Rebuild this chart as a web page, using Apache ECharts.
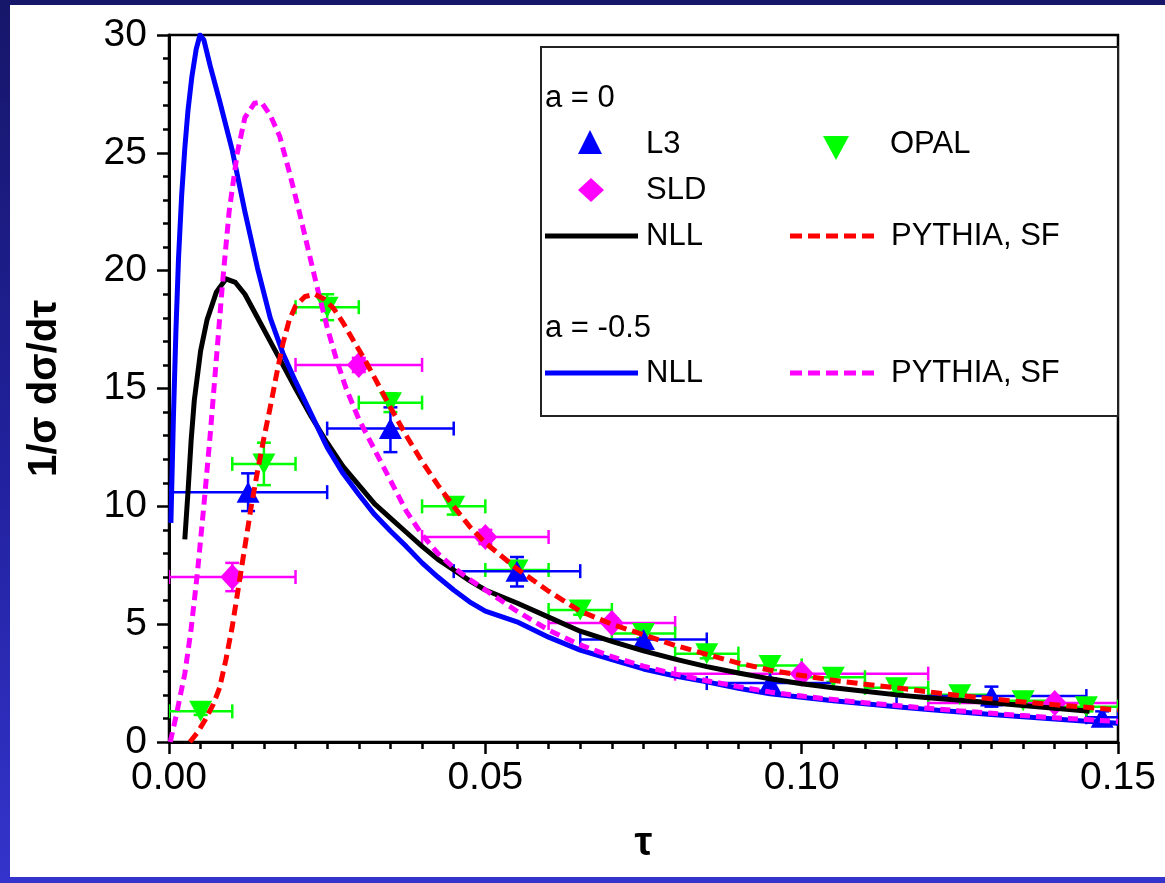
<!DOCTYPE html>
<html><head><meta charset="utf-8">
<script src="https://cdn.jsdelivr.net/npm/echarts@6/dist/echarts.min.js"></script>
<style>
html,body{margin:0;padding:0;width:1165px;height:883px;overflow:hidden;background:linear-gradient(180deg,#16166a 0%,#2222a0 55%,#3434cc 100%);}
#panel{position:absolute;left:10px;top:5px;width:1155px;height:872px;background:#fff;}
#chart{position:absolute;left:0;top:0;width:1165px;height:883px;}
</style></head><body><div id="panel"></div><div id="chart"></div>
<script>
// ---- data ----
const xTicks = [0, 0.05, 0.10, 0.15];
const yTicks = [0, 5, 10, 15, 20, 25, 30];

// theory curves [tau, value]
const nllA0 = [[0.0025,8.6],[0.003,10.6],[0.0035,12.8],[0.004,14.5],[0.005,16.6],[0.006,17.9],[0.0075,19.1],[0.009,19.65],[0.0105,19.5],[0.012,19.0],[0.014,18.0],[0.016,17.0],[0.018,16.0],[0.02,15.0],[0.0225,13.8],[0.025,12.7],[0.0275,11.7],[0.03,10.9],[0.0325,10.1],[0.035,9.5],[0.0375,8.9],[0.04,8.3],[0.0425,7.75],[0.045,7.3],[0.0475,6.85],[0.05,6.45],[0.055,5.9],[0.06,5.3],[0.065,4.7],[0.07,4.27],[0.075,3.87],[0.08,3.52],[0.085,3.2],[0.09,2.93],[0.095,2.68],[0.1,2.47],[0.105,2.3],[0.11,2.15],[0.115,2.0],[0.12,1.88],[0.125,1.77],[0.13,1.67],[0.135,1.55],[0.14,1.43],[0.1455,1.3]];
const pythiaA0 = [[0.0033,0],[0.0045,0.4],[0.0057,0.93],[0.007,1.6],[0.008,2.3],[0.009,3.5],[0.01,4.9],[0.011,6.6],[0.012,8.3],[0.013,10.0],[0.014,11.5],[0.015,12.9],[0.016,14.2],[0.017,15.6],[0.018,16.9],[0.019,17.9],[0.02,18.5],[0.0215,18.9],[0.023,19.0],[0.0245,18.8],[0.026,18.4],[0.0275,17.8],[0.029,17.1],[0.031,16.2],[0.033,15.2],[0.035,14.2],[0.0375,13.0],[0.04,11.9],[0.0425,10.9],[0.045,10.0],[0.0475,9.15],[0.05,8.45],[0.055,7.35],[0.06,6.4],[0.065,5.55],[0.07,5.0],[0.075,4.55],[0.08,4.1],[0.085,3.72],[0.09,3.35],[0.095,3.05],[0.1,2.82],[0.105,2.62],[0.11,2.45],[0.115,2.3],[0.12,2.13],[0.125,1.97],[0.13,1.83],[0.135,1.7],[0.14,1.58],[0.145,1.47],[0.15,1.36]];
const nllAm05 = [[0.0003,9.3],[0.0007,13.8],[0.0011,17.5],[0.0015,20.5],[0.002,23.2],[0.0025,25.2],[0.003,26.8],[0.0036,28.2],[0.0043,29.4],[0.0049,30.0],[0.0055,29.8],[0.0065,28.7],[0.008,27.2],[0.01,25.1],[0.012,22.5],[0.014,20.1],[0.016,18.0],[0.018,16.5],[0.02,15.3],[0.0225,13.9],[0.025,12.5],[0.0275,11.4],[0.03,10.5],[0.0325,9.65],[0.035,8.95],[0.0375,8.3],[0.04,7.6],[0.0425,7.0],[0.045,6.45],[0.0475,5.95],[0.05,5.55],[0.055,5.1],[0.06,4.45],[0.065,3.9],[0.07,3.5],[0.075,3.1],[0.08,2.8],[0.085,2.55],[0.09,2.28],[0.095,2.05],[0.1,1.9],[0.105,1.75],[0.11,1.62],[0.115,1.5],[0.12,1.38],[0.125,1.27],[0.13,1.17],[0.135,1.07],[0.14,0.98],[0.145,0.88],[0.15,0.8]];
const pythiaAm05 = [[0.0002,0],[0.0012,1.2],[0.0025,2.9],[0.0035,4.8],[0.0045,7.2],[0.0055,10.0],[0.0065,13.0],[0.0075,16.3],[0.0085,19.6],[0.0095,22.5],[0.0108,25.0],[0.012,26.5],[0.0135,27.1],[0.0146,27.15],[0.016,26.6],[0.0175,25.7],[0.019,24.2],[0.0205,22.6],[0.022,20.9],[0.0235,19.2],[0.025,17.6],[0.0265,16.2],[0.028,15.0],[0.03,13.7],[0.0325,12.4],[0.035,11.1],[0.0375,9.8],[0.04,8.8],[0.0425,8.0],[0.045,7.4],[0.0475,6.9],[0.05,6.45],[0.055,5.55],[0.06,4.75],[0.065,4.12],[0.07,3.62],[0.075,3.22],[0.08,2.88],[0.085,2.6],[0.09,2.35],[0.095,2.12],[0.1,1.95],[0.105,1.8],[0.11,1.67],[0.115,1.55],[0.12,1.43],[0.125,1.32],[0.13,1.22],[0.135,1.12],[0.14,1.03],[0.145,0.95],[0.15,0.87]];

// data points [tau, value, yLow, yHigh, tauLow, tauHigh]
const l3 = [[0.0125,10.6,9.8,11.4,0,0.025],[0.035,13.3,12.3,14.2,0.025,0.045],[0.055,7.25,6.6,7.85,0.045,0.065],[0.075,4.35,4.0,4.75,0.065,0.085],[0.095,2.5,2.3,2.7,0.085,0.105],[0.13,1.95,1.5,2.35,0.115,0.145],[0.1475,1.05,0.8,1.3,0.145,0.15]];
const opal = [[0.005,1.3,1.15,1.45,0,0.01],[0.015,11.8,10.9,12.7,0.01,0.02],[0.025,18.45,17.9,19.0,0.02,0.03],[0.035,14.4,14.0,14.8,0.03,0.04],[0.045,10.0,9.65,10.35,0.04,0.05],[0.055,7.3,7.0,7.6,0.05,0.06],[0.065,5.6,5.4,5.8,0.06,0.07],[0.075,4.6,4.4,4.8,0.07,0.08],[0.085,3.75,3.55,3.95,0.08,0.09],[0.095,3.25,3.05,3.45,0.09,0.1],[0.105,2.75,2.55,2.95,0.1,0.11],[0.115,2.3,2.1,2.5,0.11,0.12],[0.125,2.0,1.8,2.2,0.12,0.13],[0.135,1.75,1.55,1.95,0.13,0.14],[0.145,1.5,1.3,1.7,0.14,0.15]];
const sld = [[0.01,7.0,6.4,7.6,0,0.02],[0.03,16.0,15.7,16.3,0.02,0.04],[0.05,8.7,8.4,9.0,0.04,0.06],[0.07,5.05,4.85,5.25,0.06,0.08],[0.10,2.9,2.75,3.05,0.08,0.12],[0.14,1.65,1.5,1.8,0.12,0.16]];

const legendHeads = ['a = 0', 'a = -0.5'];
const legendNames = ['L3', 'OPAL', 'SLD', 'NLL', 'PYTHIA, SF'];

// ---- chart ----
const FONT = '"Liberation Sans", Arial, sans-serif';
const C_BLUE = '#0000ff', C_GREEN = '#00ff00', C_MAG = '#ff00ff', C_RED = '#ff0000', C_BLACK = '#000000';

function errRender(color) {
  return function (params, api) {
    const x = api.value(0), y = api.value(1), ylo = api.value(2), yhi = api.value(3), xlo = api.value(4), xhi = api.value(5);
    const c = api.coord([x, y]);
    const pl = api.coord([xlo, y]), pr = api.coord([xhi, y]);
    const pt = api.coord([x, yhi]), pb = api.coord([x, ylo]);
    const cap = 7;
    const st = { stroke: color, lineWidth: 2.5, fill: null };
    const L = (x1, y1, x2, y2) => ({ type: 'line', shape: { x1, y1, x2, y2 }, style: st });
    return {
      type: 'group',
      children: [
        L(pl[0], c[1], pr[0], c[1]),
        L(pl[0], c[1] - cap, pl[0], c[1] + cap),
        L(pr[0], c[1] - cap, pr[0], c[1] + cap),
        L(c[0], pt[1], c[0], pb[1]),
        L(c[0] - cap, pt[1], c[0] + cap, pt[1]),
        L(c[0] - cap, pb[1], c[0] + cap, pb[1])
      ]
    };
  };
}

function errSeries(data, color, z) {
  return { type: 'custom', data: data, renderItem: errRender(color), encode: { x: 0, y: 1 }, clip: true, z: z, silent: true };
}
function ptSeries(data, color, symbol, rotate, size, z) {
  return { type: 'scatter', data: data.map(d => [d[0], d[1]]), symbol: symbol, symbolRotate: rotate, symbolSize: size,
    itemStyle: { color: color, opacity: 1 }, z: z, silent: true };
}
function lineSeries(name, data, color, type, width, z) {
  const dashed = type !== 'solid';
  return { name: name, type: 'line', data: data, showSymbol: false, smooth: false,
    lineStyle: { color: color, width: width, type: type, cap: 'butt', join: dashed ? 'miter' : 'round' }, z: z, silent: true, clip: true };
}

const chart = echarts.init(document.getElementById('chart'), null, { renderer: 'canvas' });

// legend graphics
const LX = 541, LY = 47, LR = 1118, LB = 416;
const txt = (s, x, y, size) => ({ type: 'text', z: 100, style: { text: s, x: x, y: y, fill: '#000', font: size + 'px ' + FONT, textVerticalAlign: 'middle', verticalAlign: 'middle', textAlign: 'left', align: 'left' } });
const seg = (x1, x2, y, color, dash) => ({ type: 'line', z: 100, shape: { x1: x1, y1: y, x2: x2, y2: y }, style: { stroke: color, lineWidth: 5, lineDash: dash || null } });
const LFS = 31;
const graphics = [
  { type: 'rect', z: 99, shape: { x: LX, y: LY, width: LR - LX, height: LB - LY }, style: { fill: '#fff', stroke: '#222', lineWidth: 2 } },
  txt(legendHeads[0], 545, 98, LFS),
  { type: 'polygon', z: 100, shape: { points: [[590, 130], [602, 154], [578, 154]] }, style: { fill: C_BLUE } },
  txt(legendNames[0], 646, 144, LFS),
  { type: 'polygon', z: 100, shape: { points: [[823, 136], [849, 136], [836, 160]] }, style: { fill: C_GREEN } },
  txt(legendNames[1], 890, 144, LFS),
  { type: 'polygon', z: 100, shape: { points: [[591, 178], [604, 190], [591, 202], [578, 190]] }, style: { fill: C_MAG } },
  txt(legendNames[2], 646, 190, LFS),
  seg(545, 638, 236, C_BLACK),
  txt(legendNames[3], 646, 236, LFS),
  seg(790, 876, 236, C_RED, [12, 6]),
  txt(legendNames[4], 891, 236, LFS),
  txt(legendHeads[1], 545, 328, LFS),
  seg(545, 638, 373, C_BLUE),
  txt(legendNames[3], 646, 373, LFS),
  seg(790, 876, 373, C_MAG, [12, 6]),
  txt(legendNames[4], 891, 373, LFS)
];

const option = {
  backgroundColor: 'transparent',
  animation: false,
  textStyle: { fontFamily: FONT },
  grid: { left: 169, right: 47, top: 35, bottom: 141, show: true, borderColor: '#000', borderWidth: 2.5, backgroundColor: 'transparent' },
  xAxis: {
    type: 'value', min: xTicks[0], max: xTicks[xTicks.length - 1], interval: 0.05,
    name: 'τ', nameLocation: 'middle', nameGap: 82,
    nameTextStyle: { fontSize: 40, fontWeight: 'bold', color: '#000', fontFamily: FONT },
    axisLine: { show: true, onZero: false, lineStyle: { color: '#000', width: 3 } },
    axisTick: { show: true, length: 12, lineStyle: { color: '#000', width: 2.5 } },
    minorTick: { show: true, splitNumber: 10, length: 7, lineStyle: { color: '#000', width: 2.5 } },
    axisLabel: { fontSize: 39, color: '#000', margin: 17, fontFamily: FONT, formatter: v => v.toFixed(2) },
    splitLine: { show: false }, minorSplitLine: { show: false }
  },
  yAxis: {
    type: 'value', min: yTicks[0], max: yTicks[yTicks.length - 1], interval: 5,
    name: '1/σ dσ/dτ', nameLocation: 'middle', nameGap: 104, nameRotate: 90,
    nameTextStyle: { fontSize: 40, fontWeight: 'bold', color: '#000', fontFamily: FONT },
    axisLine: { show: true, onZero: false, lineStyle: { color: '#000', width: 3 } },
    axisTick: { show: true, length: 12, lineStyle: { color: '#000', width: 2.5 } },
    minorTick: { show: true, splitNumber: 5, length: 6, lineStyle: { color: '#000', width: 2.5 } },
    axisLabel: { fontSize: 39, color: '#000', margin: 22, fontFamily: FONT },
    splitLine: { show: false }, minorSplitLine: { show: false }
  },
  graphic: graphics,
  series: [
    errSeries(sld, C_MAG, 2), errSeries(opal, C_GREEN, 2), errSeries(l3, C_BLUE, 2),
    ptSeries(sld, C_MAG, 'diamond', 0, [24, 26], 3),
    ptSeries(opal, C_GREEN, 'triangle', 180, [23, 21], 3),
    ptSeries(l3, C_BLUE, 'triangle', 0, [23, 21], 3),
    lineSeries('NLL a=0', nllA0, C_BLACK, 'solid', 5, 5),
    lineSeries('NLL a=-0.5', nllAm05, C_BLUE, 'solid', 5, 5),
    lineSeries('PYTHIA a=-0.5', pythiaAm05, C_MAG, [10, 6], 5, 6),
    lineSeries('PYTHIA a=0', pythiaA0, C_RED, [11, 6], 5, 6)
  ]
};
chart.setOption(option);
</script></body></html>
